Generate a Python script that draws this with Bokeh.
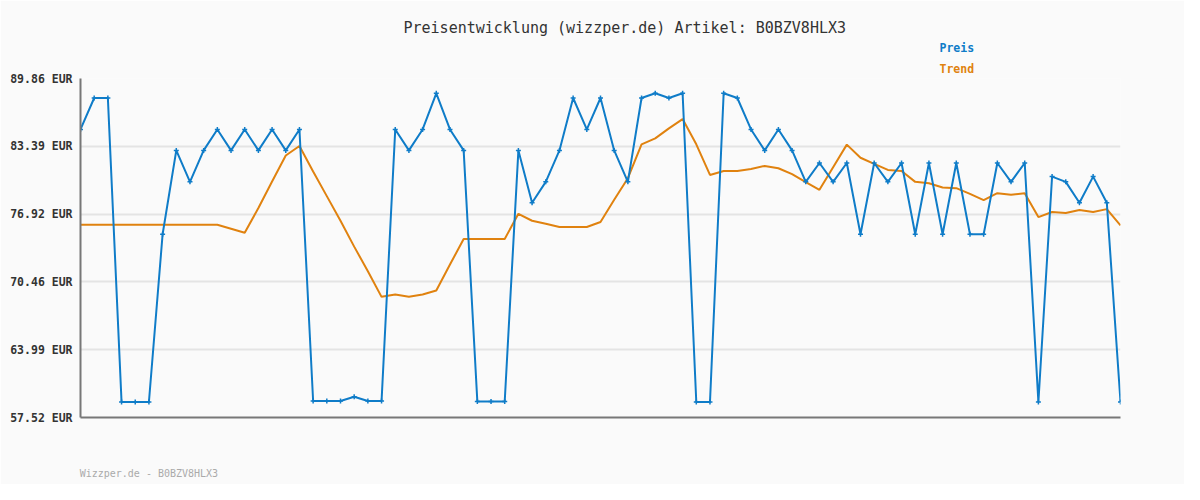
from bokeh.plotting import figure
from bokeh.models import Title, FixedTicker, Range1d
from bokeh.embed import file_html
from bokeh.resources import INLINE

price = [85.0, 88.0, 88.0, 59.0, 59.0, 59.0, 75.0, 83.0, 80.0, 83.0, 85.0, 83.0, 85.0, 83.0, 85.0, 83.0, 85.0,
         59.1, 59.1, 59.1, 59.5, 59.1, 59.1,
         85.0, 83.0, 85.0, 88.45, 85.0, 83.0,
         59.05, 59.05, 59.05,
         83.0, 78.0, 80.0, 83.0, 88.0, 85.0, 88.0, 83.0, 80.0, 88.0, 88.45, 88.0, 88.45,
         59.0, 59.0,
         88.45, 88.0, 85.0, 83.0, 85.0, 83.0, 80.0,
         81.8, 80.0, 81.8, 75.0, 81.8, 80.0, 81.8, 75.0, 81.8, 75.0, 81.8, 75.0, 75.0, 81.8, 80.0, 81.8,
         59.0, 80.5, 80.0, 78.0, 80.5, 78.0, 59.0]

trend = [75.9, 75.9, 75.9, 75.9, 75.9, 75.9, 75.9, 75.9, 75.9, 75.9, 75.9,
         75.53, 75.15, 77.5, 80.04, 82.51, 83.42, 80.98, 78.64, 76.29, 73.82, 71.48, 69.03,
         69.25, 69.03, 69.25, 69.63, 72.11, 74.55, 74.55, 74.55, 74.55, 76.95, 76.29, 76.0,
         75.69, 75.69, 75.69, 76.17, 78.29, 80.35, 83.58, 84.15, 85.1, 85.99, 83.58, 80.66,
         81.04, 81.04, 81.23, 81.52, 81.3, 80.73, 79.97, 79.24, 81.4, 83.55, 82.3, 81.71,
         81.14, 81.04, 80.0, 79.87, 79.46, 79.4, 78.86, 78.26, 78.92, 78.76, 78.92, 76.64,
         77.12, 77.02, 77.31, 77.12, 77.4, 75.85]

y_ticks = [57.52, 63.99, 70.46, 76.92, 83.39, 89.86]
y_labels = ["57.52 EUR", "63.99 EUR", "70.46 EUR", "76.92 EUR", "83.39 EUR", "89.86 EUR"]

title_text = "Preisentwicklung (wizzper.de) Artikel: B0BZV8HLX3"
footer_text = "Wizzper.de - B0BZV8HLX3"
series_names = ["Preis", "Trend"]

BLUE = "#0f7cc8"
ORANGE = "#e0820f"
BG = "#fafafa"
MONO = "DejaVu Sans Mono"

x = list(range(len(price)))

p = figure(width=1184, height=484, output_backend="svg", toolbar_location=None,
           x_range=Range1d(0, len(price) - 1), y_range=Range1d(y_ticks[0], y_ticks[-1]),
           min_border_left=80, min_border_right=64, min_border_top=78, min_border_bottom=67)
p.background_fill_color = BG
p.border_fill_color = BG
p.outline_line_color = None

p.xgrid.grid_line_color = None
p.ygrid.grid_line_color = "#e4e4e4"
p.ygrid.grid_line_width = 2
p.yaxis.ticker = FixedTicker(ticks=y_ticks)
p.yaxis.major_label_overrides = {t: l for t, l in zip(y_ticks, y_labels)}
p.yaxis.major_label_text_font = MONO
p.yaxis.major_label_text_font_style = "bold"
p.yaxis.major_label_text_font_size = "11.5px"
p.yaxis.major_label_text_color = "#333333"
p.yaxis.major_tick_line_color = None
p.yaxis.minor_tick_line_color = None
p.yaxis.major_tick_out = 0
p.yaxis.major_label_standoff = 8
p.yaxis.axis_line_color = "#777777"
p.yaxis.axis_line_width = 2

# bottom axis: plain line; its single label carries the footer text (left-aligned under the frame)
footer_pos = 5.0
p.xaxis.ticker = FixedTicker(ticks=[footer_pos])
p.xaxis.major_label_overrides = {footer_pos: footer_text}
p.xaxis.major_label_text_font = MONO
p.xaxis.major_label_text_font_size = "10px"
p.xaxis.major_label_text_color = "#aaaaaa"
p.xaxis.major_label_standoff = 50
p.xaxis.major_tick_line_color = None
p.xaxis.minor_tick_line_color = None
p.xaxis.major_tick_out = 0
p.xaxis.axis_line_color = "#777777"
p.xaxis.axis_line_width = 2

p.line(x, trend, line_color=ORANGE, line_width=2)
p.line(x, price, line_color=BLUE, line_width=2)
p.scatter(x, price, marker="cross", size=5, line_color=BLUE, line_width=1.5)

# titles stacked above the frame (first added = closest to frame)
p.add_layout(Title(text=series_names[1], align="left", offset=859, standoff=6,
                   text_font=MONO, text_font_size="11.5px", text_font_style="bold",
                   text_color=ORANGE), "above")
p.add_layout(Title(text=series_names[0], align="left", offset=859, standoff=4,
                   text_font=MONO, text_font_size="11.5px", text_font_style="bold",
                   text_color=BLUE), "above")
p.add_layout(Title(text=title_text, align="left", offset=323, standoff=0,
                   text_font=MONO, text_font_size="15px", text_font_style="normal",
                   text_color="#333333"), "above")

open("out.html", "w").write(file_html(p, INLINE))
